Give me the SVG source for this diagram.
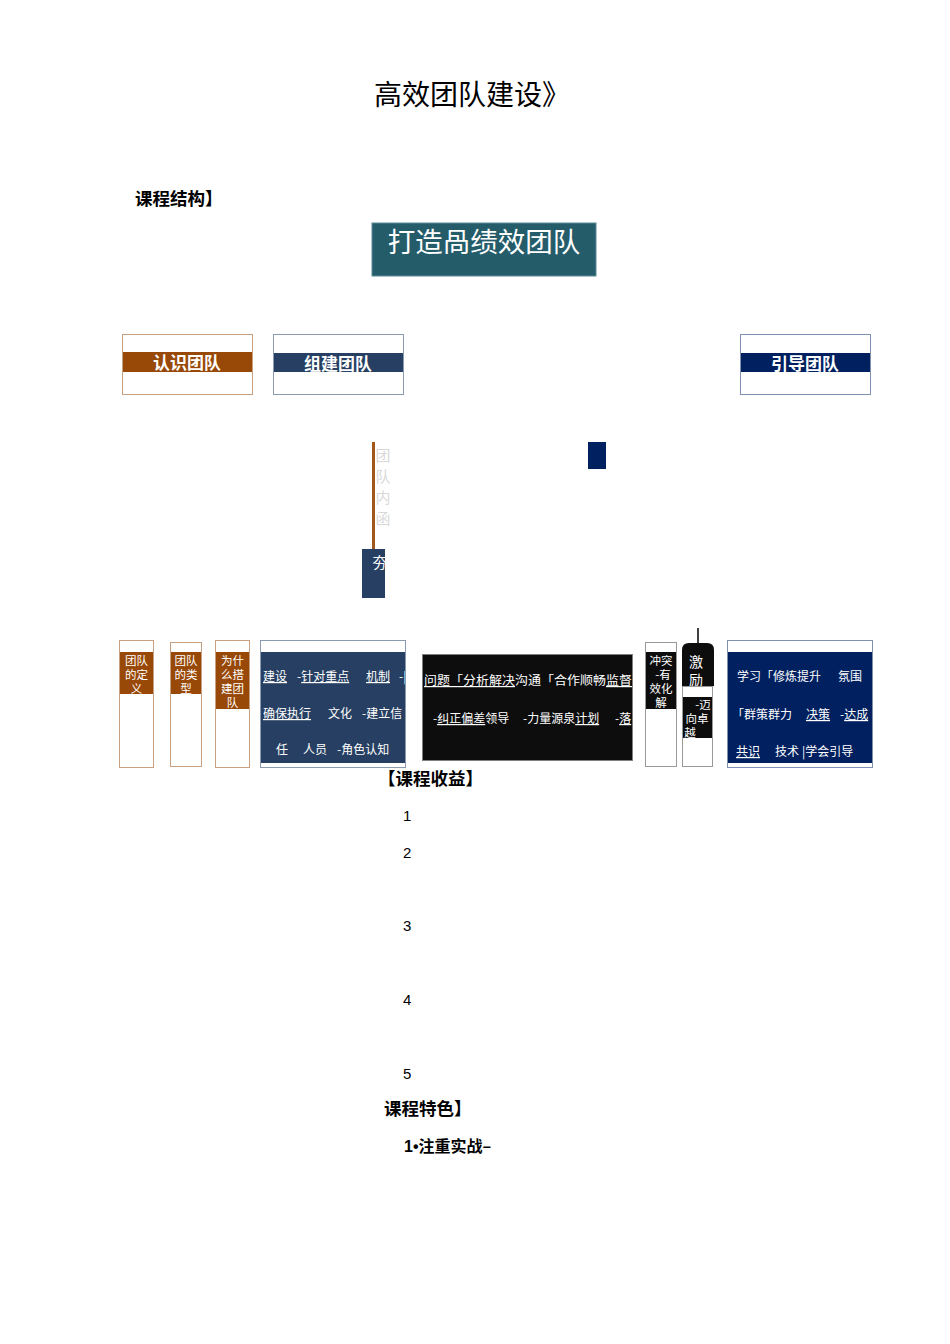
<svg xmlns="http://www.w3.org/2000/svg" width="950" height="1344" viewBox="0 0 950 1344">
<style>
.cjk{font-family:"Noto Sans CJK SC","Noto Sans",sans-serif}
.w{fill:#ffffff}
.hd{font-size:17px;font-weight:bold;fill:#ffffff;text-anchor:middle}
.sm{font-size:11.5px;fill:#ffffff;text-anchor:middle}
.md{font-size:12px;fill:#ffffff}
.u{text-decoration:underline}
.bld{font-weight:bold;fill:#000000}
.num{font-family:"Liberation Sans",Arial,sans-serif;font-size:15px;fill:#000}
</style>
<defs>
<clipPath id="cpD"><rect x="260" y="652" width="145" height="111"/></clipPath>
<clipPath id="cpE"><rect x="422" y="654" width="210" height="106"/></clipPath>
<clipPath id="cpH"><rect x="727" y="652" width="145" height="111"/></clipPath>
<clipPath id="cpK"><rect x="362" y="549" width="23" height="49"/></clipPath>
</defs>
<rect width="950" height="1344" fill="#ffffff"/>

<g id="title">
<text x="374" y="105" class="cjk" font-size="28" fill="#000">高效团队建设》</text>
</g>
<g id="structure-label">
<text x="135" y="205" class="cjk bld" font-size="17.5">课程结构】</text>
</g>
<g id="root">
<rect x="372" y="223" width="224" height="53" fill="#245c6a" stroke="#5a8a96" stroke-width="1"/>
<text x="484" y="252" class="cjk w" font-size="27.5" text-anchor="middle">打造咼绩效团队</text>
</g>

<g id="n-renshi">
<rect x="122.5" y="334.5" width="130" height="60" fill="#fff" stroke="#c8a080"/>
<rect x="123" y="352" width="129" height="20" fill="#984807"/>
<text x="187" y="369" class="cjk hd">认识团队</text>
</g>
<g id="n-zujian">
<rect x="273.5" y="334.5" width="130" height="60" fill="#fff" stroke="#8a9ab0"/>
<rect x="274" y="353" width="129" height="19" fill="#263f62"/>
<text x="338" y="370" class="cjk hd">组建团队</text>
</g>
<g id="n-yindao">
<rect x="740.5" y="334.5" width="130" height="60" fill="#fff" stroke="#8090b0"/>
<rect x="741" y="353" width="129" height="19" fill="#002060"/>
<text x="805" y="370" class="cjk hd">引导团队</text>
</g>

<g id="connectors">
<line x1="373.5" y1="442" x2="373.5" y2="550" stroke="#a0581c" stroke-width="3"/>
<line x1="698" y1="628" x2="698" y2="644" stroke="#000" stroke-width="1.5"/>
</g>

<g id="n-neihan">
<g class="cjk" font-size="15" fill="#d9d9d9" text-anchor="middle">
<text x="383" y="461">团</text>
<text x="383" y="482">队</text>
<text x="383" y="503">内</text>
<text x="383" y="524">函</text>
</g>
</g>
<g id="n-hang">
<rect x="362" y="549" width="23" height="49" fill="#263f62"/>
<text x="380" y="568" class="cjk" font-size="15" fill="#fff" text-anchor="middle" clip-path="url(#cpK)">夯</text>
</g>
<g id="n-small">
<rect x="588" y="442" width="18" height="27" fill="#002060"/>
</g>

<g id="n-dingyi">
<rect x="119.5" y="640.5" width="34" height="127" fill="#fff" stroke="#c8a080"/>
<rect x="120" y="652" width="33" height="42" fill="#984807"/>
<text x="136.5" y="665" class="cjk sm">团队</text>
<text x="136.5" y="679" class="cjk sm">的定</text>
<text x="136.5" y="693" class="cjk sm">义</text>
</g>
<g id="n-leixing">
<rect x="170.5" y="642.5" width="31" height="124" fill="#fff" stroke="#c8a080"/>
<rect x="171" y="652" width="30" height="42" fill="#984807"/>
<text x="186" y="665" class="cjk sm">团队</text>
<text x="186" y="679" class="cjk sm">的类</text>
<text x="186" y="693" class="cjk sm">型</text>
</g>
<g id="n-weishenme">
<rect x="215.5" y="640.5" width="34" height="127" fill="#fff" stroke="#c8a080"/>
<rect x="216" y="652" width="33" height="57" fill="#984807"/>
<text x="232.5" y="665" class="cjk sm">为什</text>
<text x="232.5" y="679" class="cjk sm">么搭</text>
<text x="232.5" y="693" class="cjk sm">建团</text>
<text x="232.5" y="707" class="cjk sm">队</text>
</g>

<g id="n-zujian-detail">
<rect x="260.5" y="640.5" width="145" height="127" fill="#fff" stroke="#8a9ab0"/>
<rect x="261" y="652" width="144" height="111" fill="#263f62"/>
<g clip-path="url(#cpD)" class="cjk md">
<text x="263" y="681" class="u">建设</text>
<text x="297" y="681">-<tspan class="u">针对重点</tspan></text>
<text x="366" y="681" class="u">机制</text>
<text x="399" y="681">-|</text>
<text x="263" y="718" class="u">确保执行</text>
<text x="328" y="718">文化</text>
<text x="362" y="718">-建立信</text>
<text x="276" y="754">任</text>
<text x="303" y="754">人员</text>
<text x="337" y="754">-角色认知</text>
</g>
</g>

<g id="n-guanli">
<rect x="422.5" y="654.5" width="210" height="106" fill="#0d0d0d" stroke="#808080"/>
<g clip-path="url(#cpE)" class="cjk md">
<text x="424" y="685" textLength="208" lengthAdjust="spacingAndGlyphs"><tspan class="u">问题「分析解决</tspan>沟通「合作顺畅<tspan class="u">监督</tspan></text>
<text x="433" y="723">-<tspan class="u">纠正偏差</tspan>领导</text>
<text x="523" y="723">-力量源泉<tspan class="u">计划</tspan></text>
<text x="615" y="723">-<tspan class="u">落</tspan></text>
</g>
</g>

<g id="n-chongtu">
<rect x="645.5" y="642.5" width="31" height="124" fill="#fff" stroke="#999"/>
<rect x="646" y="652" width="30" height="57" fill="#0d0d0d"/>
<text x="661" y="665" class="cjk sm">冲突</text>
<text x="663" y="679" class="cjk sm">-有</text>
<text x="661" y="693" class="cjk sm">效化</text>
<text x="661" y="707" class="cjk sm">解</text>
</g>
<g id="n-jili">
<path d="M682,686 L682,650 Q682,643 689,643 L707,643 Q714,643 714,650 L714,686 Z" fill="#0d0d0d"/>
<text x="696" y="667" class="cjk" font-size="14" fill="#fff" text-anchor="middle">激</text>
<text x="696" y="685" class="cjk" font-size="14" fill="#fff" text-anchor="middle">励</text>
<rect x="682.5" y="686.5" width="30" height="80" fill="#fff" stroke="#999"/>
<rect x="683" y="697" width="29" height="41" fill="#0d0d0d"/>
<text x="703" y="709" class="cjk sm">-迈</text>
<text x="697" y="723" class="cjk sm">向卓</text>
<text x="690" y="737" class="cjk sm">越</text>
</g>

<g id="n-yindao-detail">
<rect x="727.5" y="640.5" width="145" height="127" fill="#fff" stroke="#8090b0"/>
<rect x="728" y="652" width="144" height="111" fill="#002060"/>
<g clip-path="url(#cpH)" class="cjk md">
<text x="737" y="681">学习「修炼提升</text>
<text x="838" y="681">氛围</text>
<text x="732" y="719">「群策群力</text>
<text x="806" y="719" class="u">决策</text>
<text x="840" y="719">-<tspan class="u">达成</tspan></text>
<text x="736" y="756" class="u">共识</text>
<text x="775" y="756">技术</text>
<text x="802" y="756">|学会引导</text>
</g>
</g>

<g id="benefits">
<text x="378" y="785" class="cjk bld" font-size="17.5">【课程收益】</text>
<text x="403" y="821" class="num">1</text>
<text x="403" y="858" class="num">2</text>
<text x="403" y="931" class="num">3</text>
<text x="403" y="1005" class="num">4</text>
<text x="403" y="1079" class="num">5</text>
</g>
<g id="features">
<text x="384" y="1115" class="cjk bld" font-size="17.5">课程特色】</text>
<text x="404" y="1152" class="cjk bld" font-size="16"><tspan font-family="Liberation Sans, Arial, sans-serif">1•</tspan>注重实战–</text>
</g>
</svg>
